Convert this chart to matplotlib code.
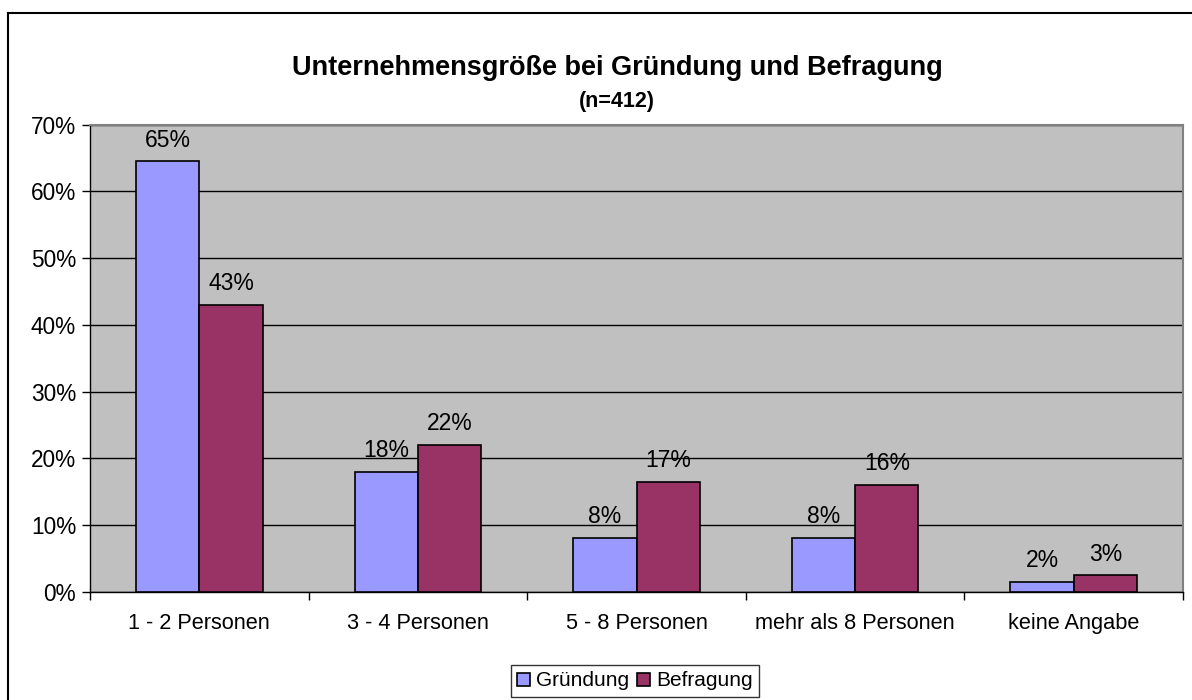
import matplotlib
matplotlib.use("Agg")
import matplotlib.pyplot as plt
from matplotlib.lines import Line2D
import numpy as np

plt.rcParams['font.family'] = ['Liberation Sans', 'DejaVu Sans']

categories = ["1 - 2 Personen", "3 - 4 Personen", "5 - 8 Personen", "mehr als 8 Personen", "keine Angabe"]
gruendung = [64.5, 18.0, 8.1, 8.1, 1.5]
befragung = [43.0, 22.0, 16.5, 16.0, 2.5]
gruendung_labels = ["65%", "18%", "8%", "8%", "2%"]
befragung_labels = ["43%", "22%", "17%", "16%", "3%"]
series_names = ["Gründung", "Befragung"]
colors = ["#9999FF", "#993366"]
title = "Unternehmensgröße bei Gründung und Befragung"
subtitle = "(n=412)"

W, H = 1192, 700
fig = plt.figure(figsize=(W / 100, H / 100), dpi=100)
ax = fig.add_axes([90 / W, 1 - 592 / H, (1183 - 90) / W, (592 - 124.5) / H])
ax.set_facecolor("#C0C0C0")

x = np.arange(len(categories))
bw = 0.29
b1 = ax.bar(x - bw / 2, gruendung, bw, color=colors[0], edgecolor="black", linewidth=1.2, label=series_names[0], zorder=3)
b2 = ax.bar(x + bw / 2, befragung, bw, color=colors[1], edgecolor="black", linewidth=1.2, label=series_names[1], zorder=3)
ax.bar_label(b1, labels=gruendung_labels, padding=7, fontsize=16.5)
ax.bar_label(b2, labels=befragung_labels, padding=7, fontsize=16.5)

ax.set_xlim(-0.5, len(categories) - 0.5)
ax.set_ylim(0, 70)
ax.set_yticks(np.arange(0, 71, 10))
ax.set_yticklabels([f"{v}%" for v in range(0, 71, 10)], fontsize=16.3)
ax.yaxis.grid(True, color="black", linewidth=1.0, zorder=1)
ax.set_axisbelow(True)

ax.set_xticks(x)
ax.set_xticklabels(categories, fontsize=15.7)
ax.tick_params(axis="x", which="major", length=0, pad=15)
ax.set_xticks(np.arange(-0.5, len(categories), 1), minor=True)
ax.tick_params(axis="x", which="minor", length=6, width=1, direction="out")
ax.tick_params(axis="y", length=6, width=1, direction="out", pad=4)

for s in ["top", "right"]:
    ax.spines[s].set_color("#808080")
    ax.spines[s].set_linewidth(1.5)
for s in ["left", "bottom"]:
    ax.spines[s].set_color("black")
    ax.spines[s].set_linewidth(1.0)

fig.text(617 / W, 1 - 68 / H, title, ha="center", va="center", fontsize=19.5, fontweight="bold")
fig.text(617 / W, 1 - 102 / H, subtitle, ha="center", va="center", fontsize=15.5, fontweight="bold")

leg = fig.legend(handles=[b1, b2], loc="center", bbox_to_anchor=(635 / W, 1 - 681 / H),
                 ncol=2, fontsize=15, frameon=True, fancybox=False, handlelength=0.6,
                 handleheight=0.6, handletextpad=0.3, columnspacing=0.4, borderpad=0.3)
leg.get_frame().set_edgecolor("black")
leg.get_frame().set_linewidth(1.0)

fig.add_artist(Line2D([8 / W, 8 / W], [0, 1 - 13 / H], color="black", linewidth=1.5, transform=fig.transFigure))
fig.add_artist(Line2D([8 / W, 1], [1 - 13 / H, 1 - 13 / H], color="black", linewidth=1.5, transform=fig.transFigure))

fig.savefig("out.png", dpi=100)
